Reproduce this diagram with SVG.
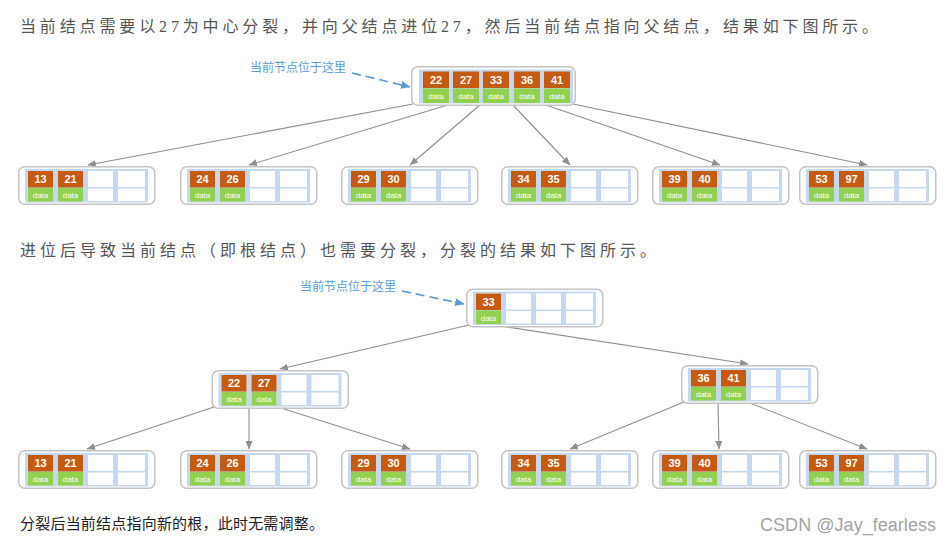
<svg xmlns="http://www.w3.org/2000/svg" xmlns:xlink="http://www.w3.org/1999/xlink" width="952" height="547" viewBox="0 0 952 547">
<style>
.outer{fill:#fff;stroke:#c4c4c4;stroke-width:1.5}
.bg{fill:#c5d8ef}
.wc{fill:#fff}
.or{fill:#c55a11}
.gr{fill:#92d050}
.num{font-family:"Liberation Sans",Arial,sans-serif;font-weight:bold;font-size:11px;fill:#fff;text-anchor:middle}
.dat{font-family:"Liberation Sans",Arial,sans-serif;font-size:8px;fill:#fff;text-anchor:middle}
.conn{stroke:#8f8f8f;stroke-width:1.1;fill:none;marker-end:url(#ah)}
.dash{stroke:#5b9bd5;stroke-width:1.6;fill:none;stroke-dasharray:9,5;marker-end:url(#ahb)}
.lbl{font-family:"Noto Sans CJK SC",sans-serif;font-size:12px;fill:#5b9bd5}
.body{font-family:"Liberation Serif","Noto Sans CJK SC",serif;font-size:16px;fill:#555}
</style>
<defs>
<marker id="ah" markerUnits="userSpaceOnUse" markerWidth="9" markerHeight="7" refX="8" refY="3.5" orient="auto">
<path d="M0,0 L8.5,3.5 L0,7 z" fill="#8f8f8f"/>
</marker>
<marker id="ahb" markerUnits="userSpaceOnUse" markerWidth="10" markerHeight="8" refX="9" refY="4" orient="auto">
<path d="M0,0 L9.5,4 L0,8 z" fill="#5b9bd5"/>
</marker>
<g id="frame4">
<rect class="outer" x="0.75" y="0.75" width="136" height="37.5" rx="6"/>
<rect class="bg" x="7" y="3" width="123" height="33.5"/>
<rect class="wc" x="10" y="5" width="25" height="16"/>
<rect class="wc" x="10" y="22.5" width="25" height="12.5"/>
<rect class="wc" x="40" y="5" width="25" height="16"/>
<rect class="wc" x="40" y="22.5" width="25" height="12.5"/>
<rect class="wc" x="70" y="5" width="25" height="16"/>
<rect class="wc" x="70" y="22.5" width="25" height="12.5"/>
<rect class="wc" x="100" y="5" width="27" height="16"/>
<rect class="wc" x="100" y="22.5" width="27" height="12.5"/>
</g>
<g id="fill1">
<rect class="or" x="10" y="5" width="25" height="16.5"/>
<rect class="gr" x="10" y="22" width="25" height="13.5"/>
<text class="dat" x="22.5" y="32">data</text>
</g>
<g id="fill2">
<rect class="or" x="40" y="5" width="25" height="16.5"/>
<rect class="gr" x="40" y="22" width="25" height="13.5"/>
<text class="dat" x="52.5" y="32">data</text>
</g>
</defs>

<text class="body" x="20" y="32" textLength="858">当前结点需要以27为中心分裂，并向父结点进位27，然后当前结点指向父结点，结果如下图所示。</text>
<text class="body" x="20" y="256" textLength="636">进位后导致当前结点（即根结点）也需要分裂，分裂的结果如下图所示。</text>
<text x="20" y="529" font-family="Noto Sans CJK SC,sans-serif" font-size="15" fill="#222" textLength="304">分裂后当前结点指向新的根，此时无需调整。</text>
<text x="760" y="531" font-family="Liberation Sans,Arial,sans-serif" font-size="18" fill="#a3a3a3" textLength="176" lengthAdjust="spacingAndGlyphs">CSDN @Jay_fearless</text>

<g id="connectors">
<path class="conn" d="M413,104 L88,165"/>
<path class="conn" d="M451,104 L249,165"/>
<path class="conn" d="M481,104 L410,165"/>
<path class="conn" d="M512,104 L570,165"/>
<path class="conn" d="M543,104 L720,165"/>
<path class="conn" d="M573,104 L867,165"/>
<path class="conn" d="M469,325 L280,369"/>
<path class="conn" d="M501,326 L748,364"/>
<path class="conn" d="M214,407 L87,449"/>
<path class="conn" d="M249,408 L249,449"/>
<path class="conn" d="M281,408 L410,449"/>
<path class="conn" d="M684,402 L570,449"/>
<path class="conn" d="M718,403 L719,449"/>
<path class="conn" d="M750,403 L867,449"/>
<path class="dash" d="M352,73 L410,87"/>
<path class="dash" d="M402,291 L464,304"/>
</g>

<g id="label-top"><text class="lbl" x="250" y="72">当前节点位于这里</text></g>
<g id="label-bottom"><text class="lbl" x="300" y="291">当前节点位于这里</text></g>

<g id="root-top">
<rect class="outer" x="411.75" y="66.75" width="163.5" height="38.5" rx="6"/>
<rect class="bg" x="419" y="69.5" width="154" height="34"/>
<rect class="or" x="423" y="71.5" width="26" height="16.5"/><rect class="gr" x="423" y="88.5" width="26" height="14.5"/>
<rect class="or" x="453" y="71.5" width="26" height="16.5"/><rect class="gr" x="453" y="88.5" width="26" height="14.5"/>
<rect class="or" x="483" y="71.5" width="26" height="16.5"/><rect class="gr" x="483" y="88.5" width="26" height="14.5"/>
<rect class="or" x="514" y="71.5" width="26" height="16.5"/><rect class="gr" x="514" y="88.5" width="26" height="14.5"/>
<rect class="or" x="544" y="71.5" width="26" height="16.5"/><rect class="gr" x="544" y="88.5" width="26" height="14.5"/>
<text class="num" x="436" y="84">22</text><text class="num" x="466" y="84">27</text><text class="num" x="496" y="84">33</text><text class="num" x="527" y="84">36</text><text class="num" x="557" y="84">41</text>
<text class="dat" x="436" y="99">data</text><text class="dat" x="466" y="99">data</text><text class="dat" x="496" y="99">data</text><text class="dat" x="527" y="99">data</text><text class="dat" x="557" y="99">data</text>
</g>

<g id="leaf-t1" transform="translate(18,166)"><use xlink:href="#frame4"/><use xlink:href="#fill1"/><use xlink:href="#fill2"/><text class="num" x="22.5" y="17">13</text><text class="num" x="52.5" y="17">21</text></g>
<g id="leaf-t2" transform="translate(180,166)"><use xlink:href="#frame4"/><use xlink:href="#fill1"/><use xlink:href="#fill2"/><text class="num" x="22.5" y="17">24</text><text class="num" x="52.5" y="17">26</text></g>
<g id="leaf-t3" transform="translate(341,166)"><use xlink:href="#frame4"/><use xlink:href="#fill1"/><use xlink:href="#fill2"/><text class="num" x="22.5" y="17">29</text><text class="num" x="52.5" y="17">30</text></g>
<g id="leaf-t4" transform="translate(501,166)"><use xlink:href="#frame4"/><use xlink:href="#fill1"/><use xlink:href="#fill2"/><text class="num" x="22.5" y="17">34</text><text class="num" x="52.5" y="17">35</text></g>
<g id="leaf-t5" transform="translate(652,166)"><use xlink:href="#frame4"/><use xlink:href="#fill1"/><use xlink:href="#fill2"/><text class="num" x="22.5" y="17">39</text><text class="num" x="52.5" y="17">40</text></g>
<g id="leaf-t6" transform="translate(799,166)"><use xlink:href="#frame4"/><use xlink:href="#fill1"/><use xlink:href="#fill2"/><text class="num" x="22.5" y="17">53</text><text class="num" x="52.5" y="17">97</text></g>

<g id="root-bottom" transform="translate(466,288.5)"><use xlink:href="#frame4"/><use xlink:href="#fill1"/><text class="num" x="22.5" y="17">33</text></g>
<g id="mid-left" transform="translate(211.5,370)"><use xlink:href="#frame4"/><use xlink:href="#fill1"/><use xlink:href="#fill2"/><text class="num" x="22.5" y="17">22</text><text class="num" x="52.5" y="17">27</text></g>
<g id="mid-right" transform="translate(681,365)"><use xlink:href="#frame4"/><use xlink:href="#fill1"/><use xlink:href="#fill2"/><text class="num" x="22.5" y="17">36</text><text class="num" x="52.5" y="17">41</text></g>

<g id="leaf-b1" transform="translate(18,450)"><use xlink:href="#frame4"/><use xlink:href="#fill1"/><use xlink:href="#fill2"/><text class="num" x="22.5" y="17">13</text><text class="num" x="52.5" y="17">21</text></g>
<g id="leaf-b2" transform="translate(180,450)"><use xlink:href="#frame4"/><use xlink:href="#fill1"/><use xlink:href="#fill2"/><text class="num" x="22.5" y="17">24</text><text class="num" x="52.5" y="17">26</text></g>
<g id="leaf-b3" transform="translate(341,450)"><use xlink:href="#frame4"/><use xlink:href="#fill1"/><use xlink:href="#fill2"/><text class="num" x="22.5" y="17">29</text><text class="num" x="52.5" y="17">30</text></g>
<g id="leaf-b4" transform="translate(501,450)"><use xlink:href="#frame4"/><use xlink:href="#fill1"/><use xlink:href="#fill2"/><text class="num" x="22.5" y="17">34</text><text class="num" x="52.5" y="17">35</text></g>
<g id="leaf-b5" transform="translate(652,450)"><use xlink:href="#frame4"/><use xlink:href="#fill1"/><use xlink:href="#fill2"/><text class="num" x="22.5" y="17">39</text><text class="num" x="52.5" y="17">40</text></g>
<g id="leaf-b6" transform="translate(799,450)"><use xlink:href="#frame4"/><use xlink:href="#fill1"/><use xlink:href="#fill2"/><text class="num" x="22.5" y="17">53</text><text class="num" x="52.5" y="17">97</text></g>
</svg>
